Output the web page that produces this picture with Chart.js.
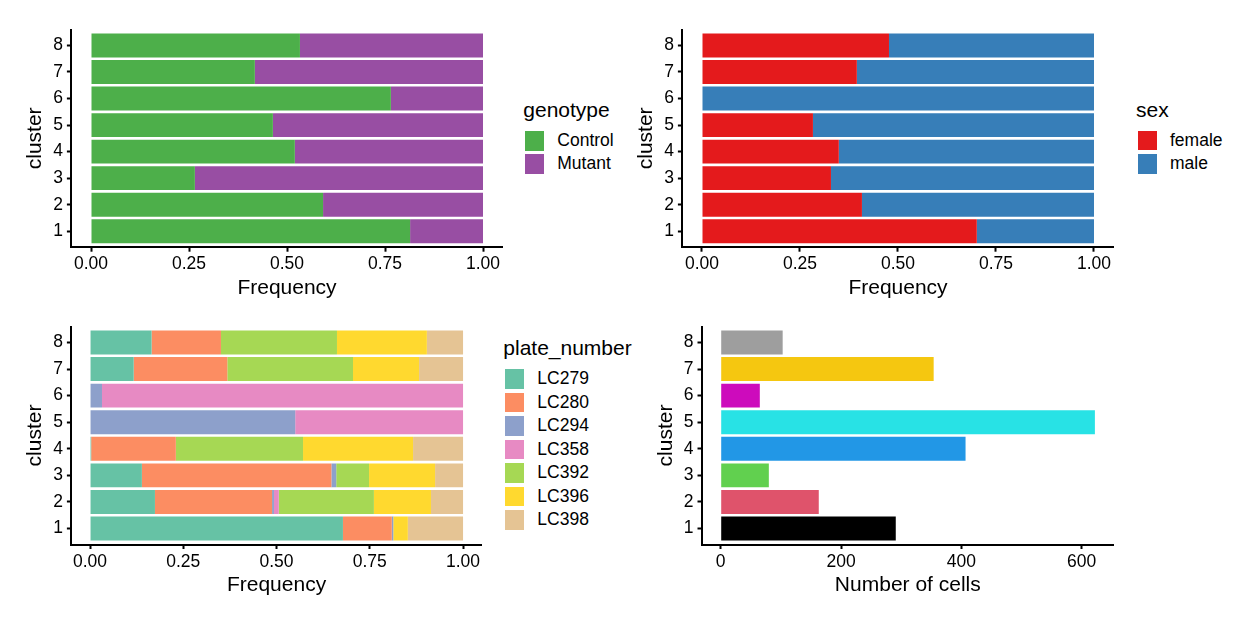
<!DOCTYPE html>
<html>
<head>
<meta charset="utf-8">
<script src="https://cdn.jsdelivr.net/npm/chart.js@4"></script>
<style>
  body { margin: 0; background: #fff; }
  #page { position: relative; width: 1248px; height: 624px; overflow: hidden; background: #fff;
          font-family: "Liberation Sans", Arial, Helvetica, sans-serif; color: #000; }
  canvas { position: absolute; }
  .lg-title { position: absolute; font-size: 21px; line-height: 1; white-space: nowrap; }
  .lg-key { position: absolute; width: 19.5px; height: 19.5px; }
  .lg-label { position: absolute; font-size: 17.5px; line-height: 19.5px; white-space: nowrap; }
</style>
</head>
<body>
<div id="page"></div>
<script>
// data
var clusters = [1, 2, 3, 4, 5, 6, 7, 8];
var freqTicks = [0, 0.25, 0.5, 0.75, 1];
var countTicks = [0, 200, 400, 600];

var genotypes = ['Control', 'Mutant'];
var genotypeColors = ['#4DAF4A', '#984EA3'];
var control = [0.814, 0.592, 0.265, 0.520, 0.464, 0.765, 0.418, 0.533];
var mutant  = [0.186, 0.408, 0.735, 0.480, 0.536, 0.235, 0.582, 0.467];

var sexes = ['female', 'male'];
var sexColors = ['#E41A1C', '#377EB8'];
var female = [0.701, 0.408, 0.329, 0.349, 0.283, 0.000, 0.395, 0.477];
var male   = [0.299, 0.592, 0.671, 0.651, 0.717, 1.000, 0.605, 0.523];

var plates = ['LC279', 'LC280', 'LC294', 'LC358', 'LC392', 'LC396', 'LC398'];
var plateColors = ['#66C2A5', '#FC8D62', '#8DA0CB', '#E78AC3', '#A6D854', '#FFD92F', '#E5C494'];
var lc279 = [0.678, 0.174, 0.139, 0.003, 0.000, 0.000, 0.117, 0.165];
var lc280 = [0.131, 0.314, 0.508, 0.227, 0.000, 0.000, 0.251, 0.186];
var lc294 = [0.004, 0.005, 0.013, 0.000, 0.550, 0.032, 0.000, 0.000];
var lc358 = [0.000, 0.013, 0.000, 0.000, 0.450, 0.968, 0.000, 0.000];
var lc392 = [0.000, 0.255, 0.088, 0.341, 0.000, 0.000, 0.337, 0.311];
var lc396 = [0.039, 0.153, 0.177, 0.295, 0.000, 0.000, 0.177, 0.241];
var lc398 = [0.148, 0.086, 0.075, 0.134, 0.000, 0.000, 0.118, 0.097];
var plateValues = [lc279, lc280, lc294, lc358, lc392, lc396, lc398];

var cellCounts = [291, 163, 80, 407, 622, 65, 354, 103];
var clusterColors = ['#000000', '#DF536B', '#61D04F', '#2297E6', '#28E2E5', '#CD0BBC', '#F5C710', '#9E9E9E'];

// layout
var FONT = '"Liberation Sans", Arial, Helvetica, sans-serif';
var page = document.getElementById('page');

function points(vals) {
	return clusters.map(function (c, i) { return { x: vals[i], y: c }; });
}

function panel(a) {
	var L = Math.floor(a.left - 72), T = Math.floor(a.top - 10);
	var R = Math.ceil(a.right + 8), B = Math.ceil(a.bottom + 65);
	return { L: L, T: T, W: R - L, H: B - T, yw: a.left - L, xh: B - a.bottom, pt: a.top - T, pr: R - a.right };
}

function makeChart(area, datasets, xTicks, xFmt, xMin, xMax, xTitle) {
	var p = panel(area);
	var cv = document.createElement('canvas');
	cv.width = p.W; cv.height = p.H;
	cv.style.left = p.L + 'px'; cv.style.top = p.T + 'px';
	cv.style.width = p.W + 'px'; cv.style.height = p.H + 'px';
	page.appendChild(cv);

	var grid = { drawOnChartArea: false, drawTicks: true, tickLength: 4.5, tickWidth: 2, tickColor: '#000', color: '#000', offset: false };
	var border = { display: true, color: '#000', width: 2 };

	return new Chart(cv.getContext('2d'), {
		type: 'bar',
		data: { datasets: datasets },
		options: {
			indexAxis: 'y',
			responsive: false,
			animation: false,
			devicePixelRatio: 1,
			layout: { padding: { top: p.pt, right: p.pr, left: 0, bottom: 0 } },
			plugins: { legend: { display: false }, tooltip: { enabled: false } },
			datasets: { bar: { barPercentage: 0.9, categoryPercentage: 1, borderWidth: 0 } },
			scales: {
				x: {
					type: 'linear', stacked: true, min: xMin, max: xMax, offset: false,
					afterFit: function (s) { s.height = p.xh; },
					afterBuildTicks: function (s) { s.ticks = xTicks.map(function (v) { return { value: v }; }); },
					ticks: { callback: xFmt, color: '#000', font: { family: FONT, size: 17.5 }, padding: 2.2, maxRotation: 0, autoSkip: false },
					grid: grid, border: border,
					title: { display: true, text: xTitle, color: '#000', font: { family: FONT, size: 21 },
						padding: { top: 0, bottom: p.xh - 12.6 - 41.2 } }
				},
				y: {
					type: 'linear', stacked: true, min: 0.4, max: 8.6, offset: false,
					afterFit: function (s) { s.width = p.yw; },
					afterBuildTicks: function (s) { s.ticks = clusters.map(function (v) { return { value: v }; }); },
					ticks: { callback: function (v) { return String(v); }, color: '#000', font: { family: FONT, size: 17.5 }, padding: 4, autoSkip: false },
					grid: grid, border: border,
					title: { display: true, text: 'cluster', color: '#000', font: { family: FONT, size: 21 },
						padding: { top: p.yw - 12.6 - 35.7, bottom: 0 } }
				}
			}
		}
	});
}

function makeLegend(left, baseline, title, labels, colors) {
	var t = document.createElement('div');
	t.className = 'lg-title';
	t.textContent = title;
	t.style.left = left + 'px';
	t.style.top = (baseline - 17.8) + 'px';
	page.appendChild(t);
	labels.forEach(function (lab, i) {
		var top = baseline + 14.3 + i * 23.45;
		var k = document.createElement('div');
		k.className = 'lg-key';
		k.style.left = (left + 1.5) + 'px';
		k.style.top = top + 'px';
		k.style.background = colors[i];
		page.appendChild(k);
		var l = document.createElement('div');
		l.className = 'lg-label';
		l.textContent = lab;
		l.style.left = (left + 34) + 'px';
		l.style.top = top + 'px';
		page.appendChild(l);
	});
}

function freqFmt(v) { return Number(v).toFixed(2); }
function countFmt(v) { return String(v); }

// genotype
makeChart({ left: 71.4, right: 502.6, top: 25.3, bottom: 247.2 },
	genotypes.map(function (g, i) {
		return { label: g, data: points([control, mutant][i]), backgroundColor: genotypeColors[i] };
	}),
	freqTicks, freqFmt, -0.05, 1.05, 'Frequency');
makeLegend(523.3, 116.7, 'genotype', genotypes, genotypeColors);

// sex
makeChart({ left: 682.4, right: 1113.6, top: 25.3, bottom: 247.2 },
	sexes.map(function (s, i) {
		return { label: s, data: points([female, male][i]), backgroundColor: sexColors[i] };
	}),
	freqTicks, freqFmt, -0.05, 1.05, 'Frequency');
makeLegend(1136, 116.3, 'sex', sexes, sexColors);

// plate_number
makeChart({ left: 71.4, right: 481.7, top: 322.6, bottom: 544.5 },
	plates.map(function (pl, i) {
		return { label: pl, data: points(plateValues[i]), backgroundColor: plateColors[i] };
	}),
	freqTicks, freqFmt, -0.05, 1.05, 'Frequency');
makeLegend(503.3, 355, 'plate_number', plates, plateColors);

// number of cells
var cMax = Math.max.apply(null, cellCounts);
makeChart({ left: 702, right: 1113.6, top: 322.6, bottom: 544.5 },
	[{ label: 'cells', data: points(cellCounts), backgroundColor: clusterColors }],
	countTicks, countFmt, -0.05 * cMax, 1.05 * cMax, 'Number of cells');
</script>
</body>
</html>
